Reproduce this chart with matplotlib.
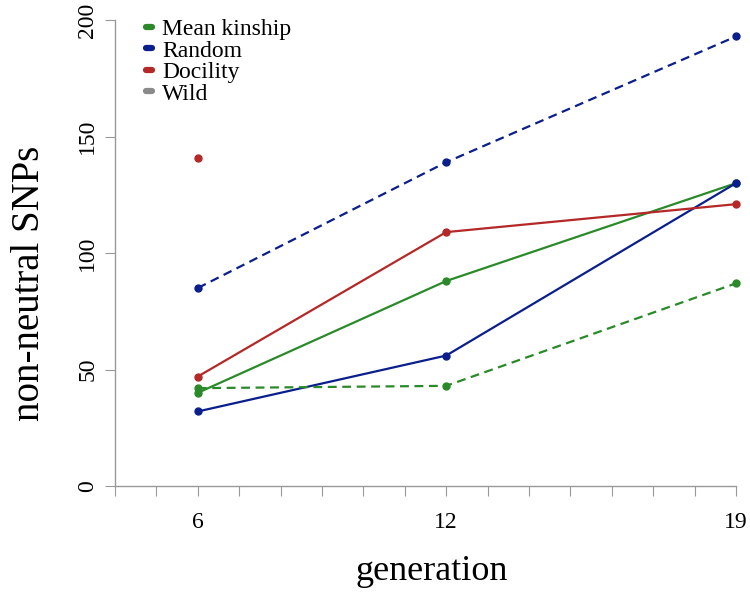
import matplotlib
matplotlib.use("Agg")
import matplotlib.pyplot as plt
from matplotlib.lines import Line2D

plt.rcParams['font.family'] = ['Liberation Serif', 'DejaVu Serif']

generations = [6, 12, 19]

# solid lines
kinship = [40, 88, 130]
random_sel = [32, 56, 130]
docility = [47, 109, 121]

# dashed lines
kinship_dash = [42, 43, 87]
random_dash = [85, 139, 193]
# single dashed docility point (generation 6 only)
docility_dash_gen = [6]
docility_dash = [141]

legend_labels = ['Mean kinship', 'Random', 'Docility', 'Wild']

green = '#2a8a2a'
blue = '#0b1f8c'
red = '#b42828'
grey = '#8a8a8a'
colors = [green, blue, red, grey]

fig = plt.figure(figsize=(7.5, 5.92), dpi=100)
ax = fig.add_axes([0.1368, 0.1476, 0.861, 0.838])

kw = dict(marker='o', markersize=5, linewidth=1.6)
ax.plot(generations, kinship, color=green, **kw)
ax.plot(generations, random_sel, color=blue, **kw)
ax.plot(generations, docility, color=red, **kw)
ax.plot(generations, kinship_dash, color=green, linestyle=(0, (4, 2.5)), **kw)
ax.plot(generations, random_dash, color=blue, linestyle=(0, (4, 2.5)), **kw)
ax.plot(docility_dash_gen, docility_dash, color=red, linestyle='none', marker='o', markersize=5)

ax.set_xlim(3.7, 19.3)
ax.set_ylim(-8, 205)

for s in ['top', 'right']:
    ax.spines[s].set_visible(False)
ax.spines['left'].set_position(('data', 4))
ax.spines['bottom'].set_position(('data', 0))
ax.spines['left'].set_bounds(0, 200)
ax.spines['bottom'].set_bounds(4, 19)
for s in ['left', 'bottom']:
    ax.spines[s].set_color('#999999')
    ax.spines[s].set_linewidth(1.0)

ax.set_xticks(range(4, 20))
ax.set_xticklabels(['' if g not in generations else str(g) for g in range(4, 20)])
ax.set_yticks([0, 50, 100, 150, 200])
ax.tick_params(axis='x', direction='out', length=7, color='#999999', pad=12, labelsize=17)
ax.tick_params(axis='y', direction='out', length=7, color='#999999', pad=5, labelsize=17)
for lab in ax.get_yticklabels():
    lab.set_rotation(90)
    lab.set_va('center')

fig.text(432 / 750, 1 - 572 / 592, 'generation', fontsize=26, ha='center', va='center')
fig.text(30 / 750, 1 - 283 / 592, 'non-neutral SNPs', fontsize=28, rotation=90,
         ha='center', va='center')

handles = [Line2D([0], [0], color=c, linewidth=4.5, solid_capstyle='round') for c in colors]
ax.legend(handles, legend_labels, loc='upper left', bbox_to_anchor=(0.0533, 0.999),
          frameon=False, fontsize=17, handlelength=0.25, handletextpad=0.42,
          labelspacing=0.0, borderaxespad=0)

fig.savefig('out.png', dpi=100)
